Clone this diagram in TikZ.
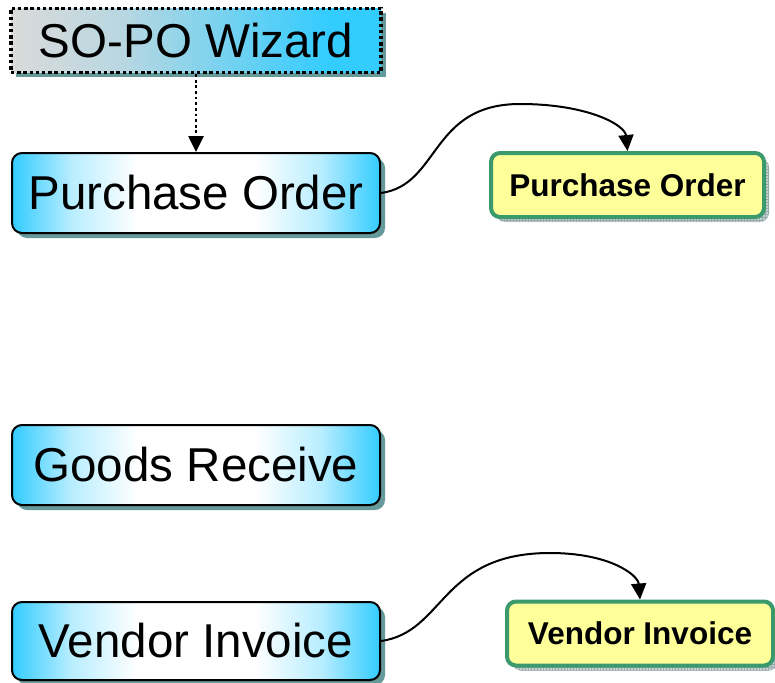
\documentclass[tikz,border=0pt]{standalone}
\usepackage{fontspec}
\setmainfont{Liberation Sans}
\usepackage{xcolor}
\usepackage{tikz}
\usetikzlibrary{arrows.meta}
\usetikzlibrary{patterns}
\usetikzlibrary{shadows}
\definecolor{boxblue}{HTML}{33CCFF}
\definecolor{wizgray}{HTML}{DADADA}
\definecolor{shadowteal}{HTML}{669999}
\definecolor{docyellow}{HTML}{FFFF99}
\definecolor{docgreen}{HTML}{3A9A6C}
\definecolor{docshadow}{HTML}{C4D0D0}
\definecolor{gridline}{HTML}{98AAAA}
\pgfdeclarehorizontalshading{bluebar}{100bp}{color(0bp)=(boxblue); color(25bp)=(boxblue); color(33bp)=(boxblue!35); color(42bp)=(white); color(58bp)=(white); color(67bp)=(boxblue!35); color(75bp)=(boxblue); color(100bp)=(boxblue)}
\pgfdeclarehorizontalshading{wizbar}{100bp}{color(0bp)=(wizgray); color(25bp)=(wizgray); color(40bp)=(wizgray!80!boxblue); color(68bp)=(boxblue); color(100bp)=(boxblue)}
\tikzset{
  flowbox/.style={draw=black, line width=2pt, rounded corners=10pt, shading=bluebar,
    minimum width=368pt, minimum height=80pt, inner sep=0pt,
    font=\fontsize{47.5}{57}\selectfont,
    drop shadow={shadow xshift=5pt, shadow yshift=-5pt, fill=shadowteal, opacity=1}},
  wizbox/.style={draw=black, line width=3.6pt, dash pattern=on 3.4pt off 2.8pt, shading=wizbar,
    minimum width=370pt, minimum height=64pt, inner sep=0pt,
    font=\fontsize{47.5}{57}\selectfont,
    drop shadow={shadow xshift=5pt, shadow yshift=-5pt, fill=shadowteal, opacity=1}},
  docbox/.style={draw=docgreen, line width=4pt, rounded corners=9pt, fill=docyellow,
    minimum height=64pt, inner sep=0pt,
    font=\fontsize{31.5}{38}\selectfont\bfseries,
    drop shadow={shadow xshift=5pt, shadow yshift=-5pt, fill=docshadow, opacity=1,
      postaction={pattern=grid, pattern color=gridline}}},
  link/.style={line width=2pt, -{Triangle[length=16pt,width=15pt]}}
}
\begin{document}
\begin{tikzpicture}[x=1pt,y=-1pt]
\useasboundingbox (0,0) rectangle (775,682);
\clip (0,0) rectangle (775,682);

\node[wizbox] (wiz) at (196,40.5) {SO-PO Wizard};
\node[flowbox] (po) at (196,193) {Purchase Order};
\node[flowbox] (gr) at (196,465) {Goods Receive};
\node[flowbox, minimum height=78pt] (vi) at (196,641) {Vendor Invoice};

\node[docbox, minimum width=273pt] (podoc) at (627.5,185) {Purchase Order};
\node[docbox, minimum width=266pt] (vidoc) at (640,633.5) {Vendor Invoice};

\draw[link, dash pattern=on 2.8pt off 2.8pt, line width=2.6pt] (wiz.south) -- (po.north);
\draw[link] (po.east) .. controls (440,185) and (430,104) .. (520,104)
   .. controls (588,104) and (625,125) .. (podoc.north);
\draw[link] (vi.east) .. controls (445,632) and (440,553) .. (550,553)
   .. controls (610,553) and (638,575) .. (vidoc.north);
\end{tikzpicture}
\end{document}
